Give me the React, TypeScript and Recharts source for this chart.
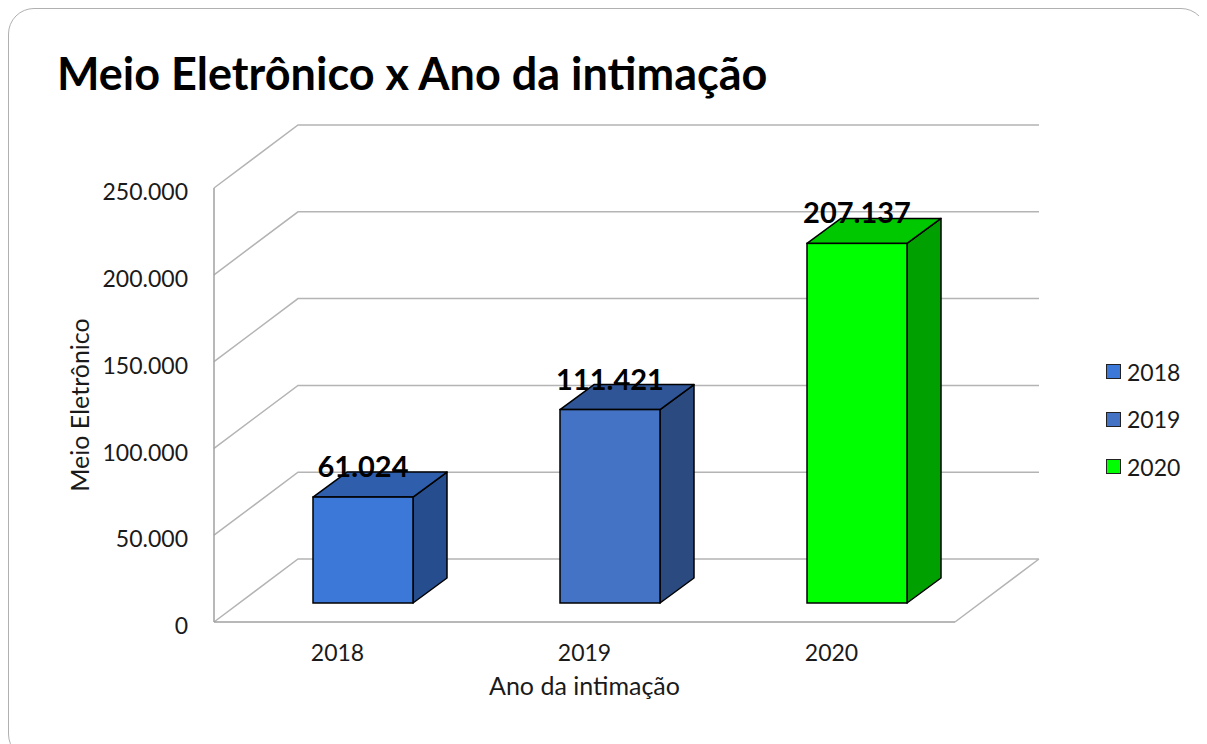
import { BarChart, Bar, XAxis, YAxis, CartesianGrid, Legend } from 'recharts'

const categories = ['2018', '2019', '2020']
const values = [61024, 111421, 207137]
const yTicks = [0, 50000, 100000, 150000, 200000, 250000]

const frontColors = ['#3C78D8', '#4472C4', '#00FF00']
const topColors = ['#2E5EAC', '#2F5597', '#00C800']
const sideColors = ['#264D8E', '#2A4A80', '#00A000']

const data = categories.map((year, i) => ({ year, value: values[i] }))

// chart box and oblique 3d offsets
const W = 1199
const H = 736
const MARGIN = { top: 180, right: 252, bottom: 32, left: 66 }
const X_AXIS_H = 90
const PLOT_BOTTOM = H - MARGIN.bottom - X_AXIS_H
const WALL_DX = 84
const WALL_DY = -63
const BAR_OX = 25
const BAR_OY = -19
const BAR_DX = 34
const BAR_DY = -25

const fmt = (v: number) => String(v).replace(/\B(?=(\d{3})+(?!\d))/g, '.')

const gridLine = (p: any) => {
  const { x1, x2, y1 } = p
  let d = `M${x1},${y1}L${x1 + WALL_DX},${y1 + WALL_DY}L${x2 + WALL_DX},${y1 + WALL_DY}`
  if (Math.abs(y1 - PLOT_BOTTOM) < 1) d += `M${x2},${y1}L${x2 + WALL_DX},${y1 + WALL_DY}`
  return <path key={p.key} d={d} fill="none" stroke="#b4b4b4" strokeWidth={1.5} />
}

const Box = (props: any) => {
  const { x, y, width, height, payload } = props
  const i = categories.indexOf(payload.year)
  const fx = x + BAR_OX
  const fy = y + BAR_OY
  const top = `${fx},${fy} ${fx + BAR_DX},${fy + BAR_DY} ${fx + width + BAR_DX},${fy + BAR_DY} ${fx + width},${fy}`
  const side = `${fx + width},${fy} ${fx + width + BAR_DX},${fy + BAR_DY} ${fx + width + BAR_DX},${fy + height + BAR_DY} ${fx + width},${fy + height}`
  return (
    <g>
      <polygon points={side} fill={sideColors[i]} stroke="#000" strokeWidth={1.5} strokeLinejoin="round" />
      <polygon points={top} fill={topColors[i]} stroke="#000" strokeWidth={1.5} strokeLinejoin="round" />
      <rect x={fx} y={fy} width={width} height={height} fill={frontColors[i]} stroke="#000" strokeWidth={1.5} />
      <text
        x={fx + width / 2}
        y={fy - 20}
        textAnchor="middle"
        fontSize={29}
        fontWeight="bold"
        fill="#000"
      >
        {fmt(payload.value)}
      </text>
    </g>
  )
}

const LegendBox = () => (
  <div style={{ fontFamily: 'Lato', fontSize: 23, color: '#1a1a1a' }}>
    {categories.map((c, i) => (
      <div key={c} style={{ height: 47.5, display: 'flex', alignItems: 'center' }}>
        <span
          style={{
            width: 13,
            height: 13,
            background: frontColors[i],
            border: '1.5px solid #222',
            marginRight: 6,
            display: 'inline-block',
          }}
        />
        <span>{c}</span>
      </div>
    ))}
  </div>
)

export default function App() {
  return (
    <div style={{ position: 'relative', width: W, height: 752, fontFamily: 'Lato' }}>
      <div
        style={{
          position: 'absolute',
          inset: 0,
          border: '1.5px solid #b0b0b0',
          borderRadius: 26,
          boxSizing: 'border-box',
        }}
      />
      <svg style={{ position: 'absolute', left: 0, top: 0 }} width={W} height={120}>
        <text x={49} y={82} fontSize={45} fontWeight="bold" fill="#000" fontFamily="Lato">
          Meio Eletrônico x Ano da intimação
        </text>
      </svg>
      <div style={{ position: 'absolute', left: 0, top: 0 }}>
        <BarChart width={W} height={H} data={data} margin={MARGIN} style={{ fontFamily: 'Lato' }}>
          <CartesianGrid vertical={false} horizontal={gridLine} />
          <XAxis
            dataKey="year"
            height={X_AXIS_H}
            axisLine={{ stroke: '#a0a0a0', strokeWidth: 1.5 }}
            tickLine={false}
            tickSize={0}
            tickMargin={23}
            tick={{ fill: '#1a1a1a', fontSize: 23 }}
            label={{ value: 'Ano da intimação', position: 'insideBottom', offset: 17, fill: '#1a1a1a', fontSize: 25 }}
          />
          <YAxis
            width={140}
            domain={[0, 250000]}
            ticks={yTicks}
            tickFormatter={fmt}
            axisLine={{ stroke: '#a0a0a0', strokeWidth: 1.5 }}
            tickLine={false}
            tickSize={0}
            tickMargin={26}
            tick={{ fill: '#1a1a1a', fontSize: 23, dy: 4 }}
            label={{
              value: 'Meio Eletrônico',
              angle: -90,
              position: 'insideLeft',
              offset: 6,
              fill: '#1a1a1a',
              fontSize: 25,
              style: { textAnchor: 'middle' },
            }}
          />
          <Legend
            layout="vertical"
            align="center"
            verticalAlign="middle"
            wrapperStyle={{ left: 1098, top: 340 }}
            content={() => <LegendBox />}
          />
          <Bar dataKey="value" barSize={100} isAnimationActive={false} shape={Box} />
        </BarChart>
      </div>
    </div>
  )
}
